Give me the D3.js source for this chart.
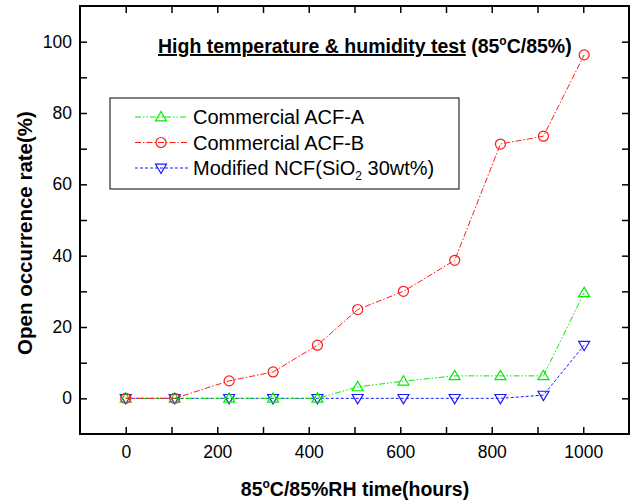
<!DOCTYPE html>
<html>
<head>
<meta charset="utf-8">
<script src="https://cdn.jsdelivr.net/npm/d3@7"></script>
<style>
  body { margin: 0; background: #fff; }
  text { font-family: Arial, "Liberation Sans", sans-serif; }
</style>
</head>
<body>
<div id="chart"></div>
<script>
// data
var hours = [0, 107, 226, 322, 419, 507, 607, 719, 819, 913, 1002];
var acfA = [0, 0, 0, 0, 0, 3.2, 4.8, 6.3, 6.3, 6.3, 29.6];
var acfB = [0, 0, 4.9, 7.4, 14.9, 24.9, 30, 38.7, 71.3, 73.5, 96.3];
var ncf = [0, 0, 0, 0, 0, 0, 0, 0, 0, 0.9, 14.9];
var xTicks = [0, 200, 400, 600, 800, 1000];
var yTicks = [0, 20, 40, 60, 80, 100];

var series = [
  { name: "Commercial ACF-A", values: acfA, color: "#00ee00", dash: "6,2,1.5,2,1.5,2", shape: "up" },
  { name: "Commercial ACF-B", values: acfB, color: "#ff1a1a", dash: "6,2,1.5,2", shape: "circle" },
  { name: "Modified NCF", values: ncf, color: "#1a1aff", dash: "3,2", shape: "down" }
];

var W = 634, H = 504;
var margin = { left: 80, right: 5, top: 6, bottom: 70 };

var svg = d3.select("#chart").append("svg")
  .attr("width", W).attr("height", H);

var x = d3.scaleLinear().domain([-100, 1100]).range([margin.left, W - margin.right]);
var y = d3.scaleLinear().domain([-10, 110]).range([H - margin.bottom, margin.top]);

// axes with inward ticks
svg.append("g")
  .attr("transform", `translate(0,${y(-10)})`)
  .call(d3.axisBottom(x).tickValues(d3.range(0, 1001, 100)).tickSize(-7).tickPadding(12)
    .tickFormat(d => xTicks.includes(d) ? d : ""));

svg.append("g")
  .attr("transform", `translate(0,${y(110)})`)
  .call(d3.axisTop(x).tickValues(d3.range(0, 1001, 100)).tickSize(-7).tickFormat(""));

svg.append("g")
  .attr("transform", `translate(${x(-100)},0)`)
  .call(d3.axisLeft(y).tickValues(d3.range(0, 101, 10)).tickSize(-7).tickPadding(8)
    .tickFormat(d => yTicks.includes(d) ? d : ""));

svg.append("g")
  .attr("transform", `translate(${x(1100)},0)`)
  .call(d3.axisRight(y).tickValues(d3.range(0, 101, 10)).tickSize(-7).tickFormat(""));

svg.selectAll(".domain").remove();
svg.selectAll(".tick text")
  .style("font-size", "17.5px")
  .style("font-family", "Arial, 'Liberation Sans', sans-serif")
  .attr("fill", "#000");
svg.selectAll(".tick line").attr("stroke", "#000").attr("stroke-width", 1.5);

// frame
svg.append("rect")
  .attr("x", x(-100)).attr("y", y(110))
  .attr("width", x(1100) - x(-100)).attr("height", y(-10) - y(110))
  .attr("fill", "none").attr("stroke", "#000").attr("stroke-width", 2);

// markers
function marker(g, shape, color, cx, cy) {
  if (shape === "circle") {
    g.append("circle").attr("cx", cx).attr("cy", cy).attr("r", 5)
      .attr("fill", "none").attr("stroke", color).attr("stroke-width", 1.2);
  } else {
    var s = 5.5;
    var pts = shape === "up"
      ? [[cx, cy - s], [cx - s, cy + s * 0.7], [cx + s, cy + s * 0.7]]
      : [[cx, cy + s], [cx - s, cy - s * 0.7], [cx + s, cy - s * 0.7]];
    g.append("polygon").attr("points", pts.map(p => p.join(",")).join(" "))
      .attr("fill", "none").attr("stroke", color).attr("stroke-width", 1.2);
  }
}

var line = d3.line().x(d => x(d[0])).y(d => y(d[1]));
var order = [2, 0, 1];
order.forEach(function (k) {
  var s = series[k];
  var pts = hours.map((h, i) => [h, s.values[i]]);
  svg.append("path").datum(pts)
    .attr("d", line)
    .attr("fill", "none")
    .attr("stroke", s.color)
    .attr("stroke-width", 1)
    .attr("stroke-dasharray", s.dash);
  var g = svg.append("g");
  pts.forEach(p => marker(g, s.shape, s.color, x(p[0]), y(p[1])));
});

// title
var title = svg.append("text")
  .attr("x", 158).attr("y", 53)
  .style("font-size", "19.5px").style("font-weight", "bold");
title.append("tspan").style("text-decoration", "underline")
  .text("High temperature & humidity test");
title.append("tspan").text(" (85");
title.append("tspan").attr("dy", -8).style("font-size", "12px").text("o");
title.append("tspan").attr("dy", 8).text("C/85%)");

// legend
var lg = svg.append("g");
lg.append("rect").attr("x", 110).attr("y", 98).attr("width", 349).attr("height", 91)
  .attr("fill", "#fff").attr("stroke", "#000").attr("stroke-width", 1);
series.forEach(function (s, i) {
  var ly = 117 + i * 25.5;
  lg.append("line").attr("x1", 135).attr("x2", 188).attr("y1", ly).attr("y2", ly)
    .attr("stroke", s.color).attr("stroke-width", 1).attr("stroke-dasharray", s.dash);
  marker(lg, s.shape, s.color, 161, ly);
  var t = lg.append("text").attr("x", 193).attr("y", ly + 7).style("font-size", "20px");
  if (i === 2) {
    t.append("tspan").text("Modified NCF(SiO");
    t.append("tspan").attr("dy", 5).style("font-size", "12px").text("2");
    t.append("tspan").attr("dy", -5).text(" 30wt%)");
  } else {
    t.text(s.name);
  }
});

// axis labels
var xl = svg.append("text")
  .attr("x", 355).attr("y", 496).attr("text-anchor", "middle")
  .style("font-size", "19.5px").style("font-weight", "bold");
xl.append("tspan").text("85");
xl.append("tspan").attr("dy", -8).style("font-size", "12px").text("o");
xl.append("tspan").attr("dy", 8).text("C/85%RH time(hours)");

svg.append("text")
  .attr("transform", "translate(32,233) rotate(-90)")
  .attr("text-anchor", "middle")
  .style("font-size", "20.5px").style("font-weight", "bold")
  .text("Open occurrence rate(%)");
</script>
</body>
</html>
